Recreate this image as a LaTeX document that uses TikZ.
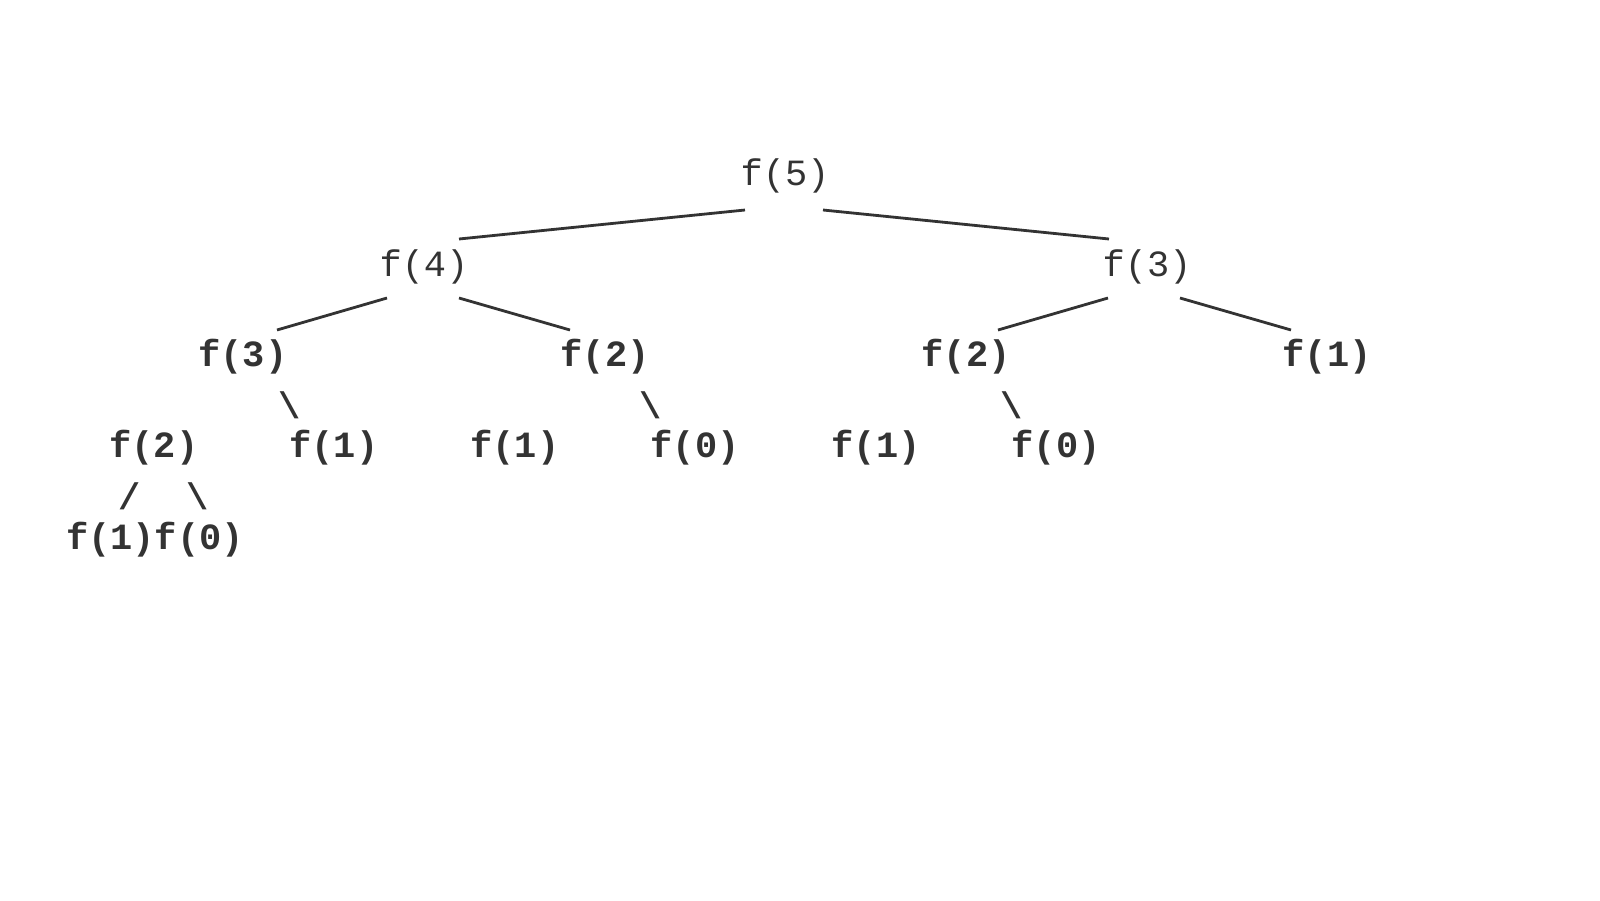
\documentclass[tikz,border=0pt]{standalone}
\usepackage{fontspec}
\setmonofont{Liberation Mono}
\definecolor{ink}{HTML}{333333}
\begin{document}
\begin{tikzpicture}[x=0.5pt,y=-0.5pt,
  t/.style={inner sep=0pt,text=ink,font=\ttfamily\fontsize{18.5}{20}\selectfont},
  tb/.style={t,font=\ttfamily\bfseries\fontsize{18.5}{20}\selectfont},
  ln/.style={draw=ink,line width=1.4pt}]
\useasboundingbox (0,0) rectangle (1600,900);
\node[t] (n5) at (785,176) {f(5)};
\node[t] (n4) at (424,267) {f(4)};
\node[t] (n3) at (1147,267) {f(3)};
\node[tb] (a3) at (243,357) {f(3)};
\node[tb] (a2) at (605,357) {f(2)};
\node[tb] (b2) at (966,357) {f(2)};
\node[tb] (b1) at (1327,357) {f(1)};
\foreach \x/\s [count=\i] in {193//,290/\textbackslash,555//,651/\textbackslash,916//,1012/\textbackslash}
  \node[tb] (s\i) at (\x,405) {\s};
\foreach \x/\s [count=\i] in {154/f(2),334/f(1),515/f(1),695/f(0),876/f(1),1056/f(0)}
  \node[tb] (r\i) at (\x,448) {\s};
\node[tb] (u1) at (130,496) {/};
\node[tb] (u2) at (198,496) {\textbackslash};
\node[tb] (leaf) at (155,540) {f(1)f(0)};
\coordinate (c1) at (745,210); \coordinate (c2) at (459,239);
\coordinate (c3) at (823,210); \coordinate (c4) at (1109,239);
\coordinate (c5) at (387,298); \coordinate (c6) at (277,330);
\coordinate (c7) at (459,298); \coordinate (c8) at (570,330);
\coordinate (c9) at (1108,298); \coordinate (c10) at (998,330);
\coordinate (c11) at (1180,298); \coordinate (c12) at (1291,330);
\draw[ln] (c1)--(c2); \draw[ln] (c3)--(c4);
\draw[ln] (c5)--(c6); \draw[ln] (c7)--(c8);
\draw[ln] (c9)--(c10); \draw[ln] (c11)--(c12);
\end{tikzpicture}
\end{document}
